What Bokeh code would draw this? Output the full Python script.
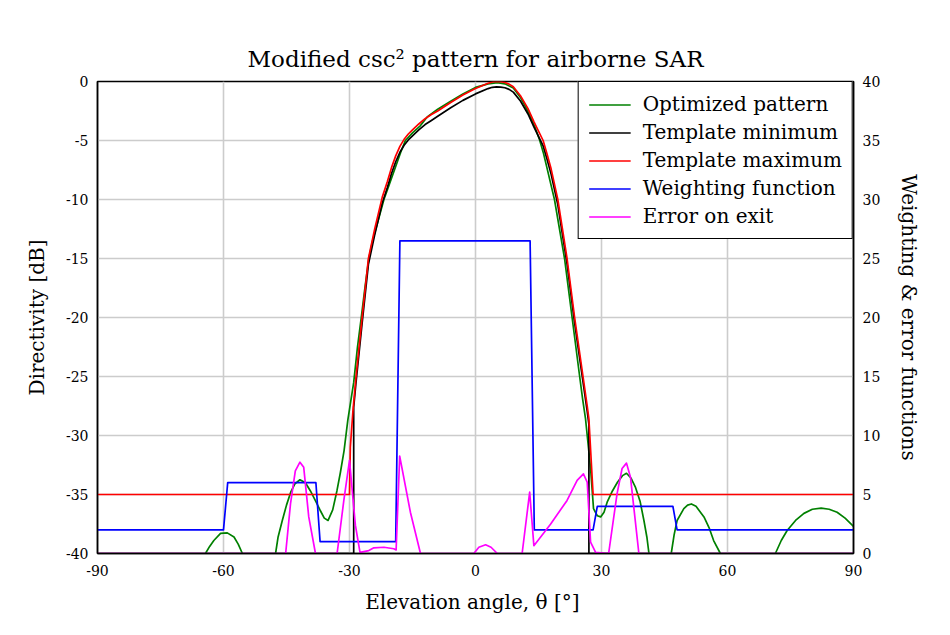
from bokeh.plotting import figure
from bokeh.models import Range1d, LinearAxis, FixedTicker, Legend, LegendItem
from bokeh.embed import file_html
from bokeh.resources import INLINE

# ---- data ----
x_ticks = [-90, -60, -30, 0, 30, 60, 90]
y_ticks = [-40, -35, -30, -25, -20, -15, -10, -5, 0]
w_ticks = [0, 5, 10, 15, 20, 25, 30, 35, 40]

# Optimized pattern [dB]
g_x = [-90, -67, -64.3, -63.3, -62.3, -60.7, -59.1, -57.5, -56.5, -55.5, -53, -50,
       -47.6, -47.0, -46.0, -45.0, -44.0, -43.0, -41.8, -40.5, -39.3, -38.0, -36.9, -36.0,
       -35.1, -34.0, -33.0, -32.2, -31.3, -30.4, -29.0, -28.1, -27.2, -26.3, -25.4, -24.5,
       -23.5, -21.8, -20.5, -19.0, -17.8, -16.7, -15.0, -13.1, -11.5, -9.0, -6.0, -3.0, 0.0,
       3.0, 5.2, 7.0, 9.0, 10.7, 12.0, 13.0, 14.2, 15.3, 16.2, 17.0, 18.8, 20.0, 21.2, 23.0,
       24.8, 25.5, 26.2, 26.8, 27.4, 28.1, 29.0, 29.8, 30.6, 31.4, 32.6, 33.8, 35.0, 35.95,
       37.0, 38.1, 39.2, 40.1, 40.8, 41.3, 43, 45, 46.6, 47.3, 48.0, 49.6, 50.5, 51.4, 52.5,
       54.4, 55.6, 56.7, 58.3, 62, 68, 71.4, 72.8, 74.2, 76.2, 78.2, 80.2, 82.3, 84.2, 86.1,
       88.0, 90]
g_y = [-60, -47, -40, -39.4, -38.9, -38.3, -38.25, -38.6, -39.2, -40, -47, -47,
       -40, -38.6, -37.2, -35.9, -34.8, -34.1, -33.75, -34.0, -34.7, -35.6, -36.4, -37.0,
       -37.2, -36.3, -34.7, -33.2, -31.3, -28.7, -25.5, -22.5, -20.0, -17.4, -15.0, -13.5,
       -12.2, -10.0, -8.7, -7.2, -6.0, -5.0, -4.35, -3.73, -3.0, -2.35, -1.7, -1.05, -0.5,
       -0.2, -0.1, -0.2, -0.55, -1.35, -2.2, -2.9, -3.9, -5.0, -6.1, -7.3, -10.0, -12.5,
       -15.0, -20.0, -25.0, -26.9, -28.6, -30.7, -32.8, -36.2, -36.8, -36.9, -36.5, -35.6,
       -34.7, -33.96, -33.4, -33.2, -33.6, -34.4, -35.6, -37.2, -38.6, -40, -46, -46, -40,
       -38.4, -37.2, -36.2, -35.9, -35.8, -36.0, -36.9, -37.8, -38.9, -40, -48, -48, -40,
       -38.9, -38.05, -37.2, -36.6, -36.25, -36.15, -36.25, -36.5, -37.0, -37.7]

# Template minimum [dB]
tmin_x = [-90, -29, -29, -28.5, -27.0, -25.5, -24.0, -22.2, -21.0, -20.0, -19.0, -18.0,
          -17.0, -16.0, -15.0, -13.5, -12.0, -10.5, -9.0, -6.0, -3.0, 0.0, 3.0, 4.0, 5.0, 6.0,
          7.0, 8.0, 9.0, 10.7, 12.5, 13.9, 15.0, 16.1, 17.0, 18.0, 19.6, 20.7, 21.8, 23.6,
          25.6, 26.6, 27.0, 27.0, 90]
tmin_y = [-40, -40, -27.6, -25.7, -20.5, -15.5, -13.0, -10.3, -9.0, -7.8, -6.8, -6.0,
          -5.4, -4.95, -4.6, -4.1, -3.65, -3.3, -2.95, -2.25, -1.6, -1.05, -0.6, -0.49, -0.45,
          -0.47, -0.53, -0.67, -0.9, -1.65, -2.75, -3.85, -4.65, -5.45, -6.55, -7.85, -10.45,
          -12.95, -15.45, -20.45, -25.45, -27.95, -29.05, -40, -40]

# Template maximum [dB]
tmax_x = [-90, -30, -29.8, -29.2, -28.5, -27.0, -25.5, -24.0, -22.2, -21.0, -20.0, -19.0,
          -18.0, -17.0, -16.0, -15.0, -13.5, -12.0, -10.5, -9.0, -6.0, -3.0, 0.0, 3.0, 4.0,
          5.0, 6.0, 7.0, 8.0, 9.0, 10.7, 12.5, 13.9, 15.0, 16.1, 17.0, 18.0, 19.6, 20.7, 21.8,
          23.6, 25.6, 26.6, 27.0, 28.0, 90]
tmax_y = [-35, -35, -31.0, -28.0, -25.2, -20.0, -15.0, -12.5, -9.8, -8.5, -7.3, -6.3,
          -5.5, -4.9, -4.45, -4.1, -3.6, -3.15, -2.8, -2.5, -1.8, -1.15, -0.6, -0.15, -0.04,
          0.0, -0.02, -0.08, -0.22, -0.45, -1.2, -2.3, -3.4, -4.2, -5.0, -6.1, -7.4, -10.0,
          -12.5, -15.0, -20.0, -25.0, -27.5, -28.6, -35, -35]

# Weighting function (right axis)
w_x = [-90, -60, -59, -38, -37, -19, -18, 13, 14, 28, 29, 47, 48, 90]
w_v = [2, 2, 6, 6, 1, 1, 26.5, 26.5, 2, 2, 4, 4, 2, 2]

# Error on exit (right axis)
e_x = [-90, -45.2, -44.05, -42.9, -41.8, -40.9, -39.7, -38.1, -32.95, -31.35, -30.0, -28.6,
       -27.5, -25.4, -24.2, -21.8, -19.45, -18.9, -18.05, -15.5, -13.1, -0.4, 0.8, 2.4, 3.7,
       5.2, 11.1, 12.9, 13.9, 17.9, 21.8, 24.2, 25.7, 26.6, 27.4, 28.6, 31.7, 33.7, 34.9,
       35.95, 36.9, 38.9, 90]
e_v = [0, 0, 4.2, 7.0, 7.74, 7.3, 3.1, 0, 0, 4.5, 7.9, 2.4, 0.1, 0.25, 0.48, 0.53, 0.4, 0.3,
       8.25, 3.5, 0, 0, 0.53, 0.74, 0.53, 0, 0, 5.2, 0.66, 2.5, 4.5, 6.2, 6.75, 6.04, 0.96, 0.1,
       0, 5.06, 7.2, 7.66, 6.47, 0, 0]

FONT = "DejaVu Serif"

p = figure(width=942, height=627, x_range=Range1d(-90, 90), y_range=Range1d(-40, 0),
           output_backend="svg", toolbar_location=None,
           min_border_left=97, min_border_right=89, min_border_top=81, min_border_bottom=74)
p.extra_y_ranges = {"w": Range1d(0, 40)}

p.title.text = "Modified csc\u00b2 pattern for airborne SAR"
p.title.align = "center"
p.title.text_font = FONT
p.title.text_font_size = "23px"
p.title.text_font_style = "normal"
p.title.text_color = "black"
p.title.standoff = 20

p.outline_line_color = "black"
p.outline_line_width = 1.5
p.outline_line_alpha = 1

for r in (p.xgrid, p.ygrid):
    r.grid_line_color = "#cccccc"
    r.grid_line_width = 1.6
p.xgrid.ticker = FixedTicker(ticks=x_ticks)
p.ygrid.ticker = FixedTicker(ticks=y_ticks)

right = LinearAxis(y_range_name="w", axis_label="Weighting & error functions")
p.add_layout(right, "right")

for ax, ticks in ((p.xaxis[0], x_ticks), (p.yaxis[0], y_ticks), (right, w_ticks)):
    ax.ticker = FixedTicker(ticks=ticks)
    ax.major_label_overrides = {t: str(t) for t in ticks}
    ax.major_tick_in = 0
    ax.major_tick_out = 0
    ax.minor_tick_in = 0
    ax.minor_tick_out = 0
    ax.axis_line_color = "black"
    ax.axis_line_width = 1.5
    ax.major_label_text_font = FONT
    ax.major_label_text_font_size = "14px"
    ax.major_label_text_color = "black"
    ax.axis_label_text_font = FONT
    ax.axis_label_text_font_size = "20px"
    ax.axis_label_text_font_style = "normal"
    ax.axis_label_text_color = "black"
    ax.major_label_standoff = 9
    ax.axis_label_standoff = 14

p.xaxis[0].axis_label = "Elevation angle, \u03b8  [\u00b0]"
p.xaxis[0].major_label_standoff = 11
p.xaxis[0].axis_label_standoff = 11
p.yaxis[0].axis_label = "Directivity [dB]"

lw = 1.7
kw = dict(line_width=lw, line_join="round")
r_g = p.line(g_x, g_y, line_color="#008000", **kw)
r_min = p.line(tmin_x, tmin_y, line_color="black", **kw)
r_max = p.line(tmax_x, tmax_y, line_color="#ff0000", **kw)
r_w = p.line(w_x, w_v, line_color="#0000ff", y_range_name="w", **kw)
r_e = p.line(e_x, e_v, line_color="#ff00ff", y_range_name="w", **kw)

legend = Legend(items=[
    LegendItem(label="Optimized pattern", renderers=[r_g]),
    LegendItem(label="Template minimum", renderers=[r_min]),
    LegendItem(label="Template maximum", renderers=[r_max]),
    LegendItem(label="Weighting function", renderers=[r_w]),
    LegendItem(label="Error on exit", renderers=[r_e]),
], location="top_right")
legend.margin = 0
legend.padding = 10
legend.spacing = 4
legend.glyph_width = 42
legend.glyph_height = 21
legend.label_height = 21
legend.label_standoff = 12
legend.label_text_font = FONT
legend.label_text_font_size = "20px"
legend.label_text_color = "black"
legend.border_line_color = "black"
legend.border_line_width = 1.5
legend.border_line_alpha = 1
legend.background_fill_color = "white"
legend.background_fill_alpha = 1
p.add_layout(legend)

open("out.html", "w").write(file_html(p, INLINE))
